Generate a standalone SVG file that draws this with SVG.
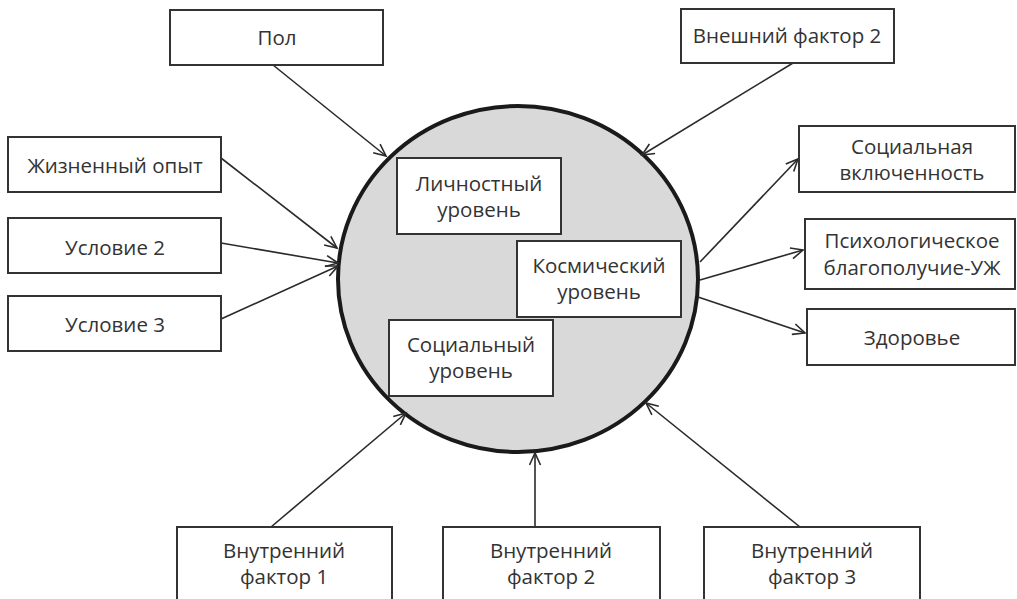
<svg xmlns="http://www.w3.org/2000/svg" width="1017" height="599" viewBox="0 0 1017 599">
<style>
.box{fill:#fff;stroke:#333;stroke-width:2}
.t{font-family:"Open Sans","Liberation Sans",sans-serif;font-size:20.5px;fill:#333;text-anchor:middle}
.c{stroke:#2a2a2a;stroke-width:1.6;fill:none;marker-end:url(#ah)}
</style>
<defs>
<marker id="ah" markerUnits="userSpaceOnUse" markerWidth="16" markerHeight="14" refX="13" refY="6.5" orient="auto">
<path d="M1,1 L13,6.5 L1,12" fill="none" stroke="#2a2a2a" stroke-width="1.6"/>
</marker>
</defs>
<rect width="1017" height="599" fill="#fff"/>
<g id="center">
<ellipse cx="518" cy="279" rx="180" ry="173" fill="#d9d9d9" stroke="#1a1a1a" stroke-width="4"/>
</g>
<g id="connectors">
<line class="c" x1="273" y1="65" x2="386" y2="156"/>
<line class="c" x1="793" y1="63" x2="642" y2="155"/>
<line class="c" x1="221" y1="158" x2="337" y2="248"/>
<line class="c" x1="221" y1="243" x2="338" y2="263"/>
<line class="c" x1="221" y1="319" x2="338" y2="266"/>
<line class="c" x1="700" y1="262" x2="798" y2="159"/>
<line class="c" x1="700" y1="280" x2="803" y2="250"/>
<line class="c" x1="698" y1="297" x2="805" y2="333"/>
<line class="c" x1="271" y1="527" x2="406" y2="413"/>
<line class="c" x1="535" y1="527" x2="535" y2="453"/>
<line class="c" x1="800" y1="527" x2="646" y2="403"/>
</g>
<g id="n-lichnostny">
<rect class="box" x="397" y="158" width="164" height="76"/>
<text class="t" x="479" y="191">Личностный</text>
<text class="t" x="479" y="217">уровень</text>
</g>
<g id="n-kosmichesky">
<rect class="box" x="517" y="241" width="164" height="76"/>
<text class="t" x="599" y="273">Космический</text>
<text class="t" x="599" y="299">уровень</text>
</g>
<g id="n-socialny">
<rect class="box" x="389" y="320" width="164" height="76"/>
<text class="t" x="471" y="352">Социальный</text>
<text class="t" x="471" y="378">уровень</text>
</g>
<g id="n-pol">
<rect class="box" x="170" y="10" width="213" height="55"/>
<text class="t" x="277" y="45">Пол</text>
</g>
<g id="n-vneshny2">
<rect class="box" x="681" y="9" width="213" height="54"/>
<text class="t" x="787" y="43">Внешний фактор 2</text>
</g>
<g id="n-opyt">
<rect class="box" x="8" y="137" width="213" height="55"/>
<text class="t" x="115" y="173">Жизненный опыт</text>
</g>
<g id="n-usl2">
<rect class="box" x="8" y="218" width="213" height="55"/>
<text class="t" x="115" y="255">Условие 2</text>
</g>
<g id="n-usl3">
<rect class="box" x="8" y="296" width="213" height="55"/>
<text class="t" x="115" y="332">Условие 3</text>
</g>
<g id="n-soc-vkl">
<rect class="box" x="799" y="126" width="216" height="66"/>
<text class="t" x="912" y="154">Социальная</text>
<text class="t" x="912" y="180">включенность</text>
</g>
<g id="n-psih">
<rect class="box" x="805" y="219" width="210" height="70"/>
<text class="t" x="912" y="248">Психологическое</text>
<text class="t" x="912" y="275">благополучие-УЖ</text>
</g>
<g id="n-zdorovie">
<rect class="box" x="807" y="309" width="208" height="56"/>
<text class="t" x="912" y="345">Здоровье</text>
</g>
<g id="n-vnutr1">
<rect class="box" x="177" y="527" width="215" height="80"/>
<text class="t" x="284" y="558">Внутренний</text>
<text class="t" x="284" y="584">фактор 1</text>
</g>
<g id="n-vnutr2">
<rect class="box" x="443" y="527" width="217" height="80"/>
<text class="t" x="551" y="558">Внутренний</text>
<text class="t" x="551" y="584">фактор 2</text>
</g>
<g id="n-vnutr3">
<rect class="box" x="704" y="527" width="216" height="80"/>
<text class="t" x="812" y="558">Внутренний</text>
<text class="t" x="812" y="584">фактор 3</text>
</g>
</svg>
